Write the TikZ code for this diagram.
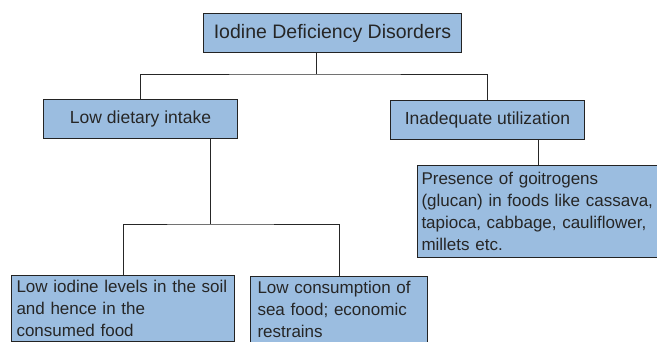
\documentclass[tikz,border=0pt]{standalone}
\usepackage{fontspec}
\setmainfont{Liberation Sans}
\usetikzlibrary{positioning, calc}
\definecolor{boxblue}{RGB}{155,189,224}
\definecolor{boxline}{RGB}{35,35,35}

\begin{document}
\begin{tikzpicture}[x=1pt, y=-1pt,
        box/.style={draw=boxline, fill=boxblue, line width=1pt, anchor=north west,
            text=black!85, font=\fontsize{17.5}{22}\selectfont},
        leafbox/.style={box, align=left, inner xsep=2pt, inner ysep=5pt,
            font=\fontsize{17}{22}\selectfont},
        link/.style={draw=black!85, line width=1pt}]
        % Page frame
        \useasboundingbox (0,0) rectangle (657,341);
        \clip (0,0) rectangle (657,341);
        
        % Root
        \node[box, minimum width=258, minimum height=39, font=\fontsize{19.5}{24}\selectfont]
            (idd) at (203,13) {Iodine Deficiency Disorders};
        
        % Causes
        \node[box, minimum width=194, minimum height=39] (ldi) at (43,99) {Low dietary intake};
        \node[box, minimum width=194, minimum height=39] (inu) at (390,100) {Inadequate utilization};
        
        % Details
        \node[leafbox, text width=219] (soil) at (11,275)
            {\hspace*{3pt}Low iodine levels in the soil\\\hspace*{3pt}and hence in the\\\hspace*{3pt}consumed food\\[4pt]};
        \node[leafbox, text width=173] (sea) at (250,276)
            {\hspace*{5pt}Low consumption of\\\hspace*{5pt}sea food; economic\\\hspace*{5pt}restrains\\[4pt]};
        \node[leafbox, text width=238, minimum height=92] (goit) at (417,165)
            {\hspace*{2pt}Presence of goitrogens\\\hspace*{2pt}(glucan) in foods like cassava,\\\hspace*{2pt}tapioca, cabbage, cauliflower,\\\hspace*{2pt}millets etc.};
        
        % Connectors
        \coordinate (j1) at (316,74);
        \coordinate (j2) at (210,224);
        \coordinate (j3) at (538,152);
        \draw[link] (idd.south -| j1) -- (j1);
        \draw[link] (ldi.north) |- (j1) -| (inu.north);
        \draw[link] (ldi.south -| j2) -- (j2);
        \draw[link] (soil.north) |- (j2) -| (sea.north);
        \draw[link] (inu.south -| j3) -- (goit.north -| j3);
    \end{tikzpicture}
\end{document}
